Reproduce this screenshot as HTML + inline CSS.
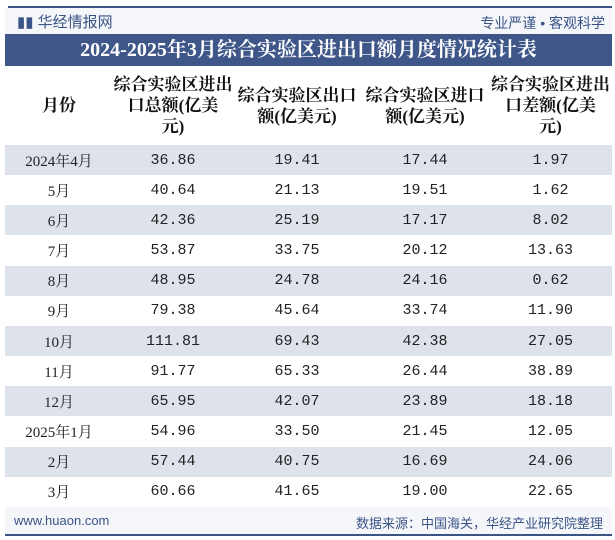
<!DOCTYPE html>
<html><head><meta charset="utf-8"><style>
body{margin:0;width:615px;height:540px;background:#fff;position:relative;overflow:hidden;font-family:"Liberation Sans","Noto Sans CJK SC",sans-serif}
.top{position:absolute;left:8px;right:3px;top:6px;height:2px;background:#3b5486}
.bot{position:absolute;left:5px;right:3px;top:534px;height:2px;background:#3b5486}
.strip{position:absolute;left:5px;right:3px;top:8px;height:26px;background:#f4f6fa}
.logo{position:absolute;left:17px;top:11px;font-size:15px;color:#3b5486}
.slogan{position:absolute;right:10px;top:13px;font-size:14px;color:#3b5486}
.title{position:absolute;left:5px;right:3px;top:34px;height:32px;background:#3f5689;color:#fff;font:bold 20px "Liberation Serif","Noto Serif CJK SC",serif;text-align:center;line-height:32px}
table{position:absolute;left:5px;top:66px;width:607px;border-collapse:collapse;table-layout:fixed}
th{height:79px;font:bold 17px "Liberation Serif","Noto Serif CJK SC",serif;color:#111;line-height:21px;padding:0;white-space:nowrap;overflow:visible}
td{height:30.17px;padding:0;text-align:center;font:15px "Liberation Mono","Noto Sans CJK SC",monospace;color:#222}
tr.g td{background:#dee2eb}
.foot{position:absolute;left:5px;right:3px;top:507px;height:27px;background:#f4f6fa}
.fl{position:absolute;left:14px;top:513px;font-size:13px;color:#3b5486}
.fr{position:absolute;right:12px;top:513px;font-size:13px;color:#3b5486}
</style></head><body>
<div class="strip"></div>
<div class="top"></div>
<div class="logo">▮▮ 华经情报网</div>
<div class="slogan">专业严谨 • 客观科学</div>
<div class="title">2024-2025年3月综合实验区进出口额月度情况统计表</div>
<table>
<colgroup><col style="width:108px"><col style="width:120px"><col style="width:128px"><col style="width:128px"><col style="width:123px"></colgroup>
<tr><th>月份</th><th>综合实验区进出<br>口总额(亿美<br>元)</th><th>综合实验区出口<br>额(亿美元)</th><th>综合实验区进口<br>额(亿美元)</th><th>综合实验区进出<br>口差额(亿美<br>元)</th></tr>
<tbody id="tb"></tbody>
</table>
<div class="foot"></div>
<div class="fl">www.huaon.com</div>
<div class="fr">数据来源：中国海关，华经产业研究院整理</div>
<div class="bot"></div>
<script>
const months=["2024年4月","5月","6月","7月","8月","9月","10月","11月","12月","2025年1月","2月","3月"];
const total=["36.86","40.64","42.36","53.87","48.95","79.38","111.81","91.77","65.95","54.96","57.44","60.66"];
const exp=["19.41","21.13","25.19","33.75","24.78","45.64","69.43","65.33","42.07","33.50","40.75","41.65"];
const imp=["17.44","19.51","17.17","20.12","24.16","33.74","42.38","26.44","23.89","21.45","16.69","19.00"];
const diff=["1.97","1.62","8.02","13.63","0.62","11.90","27.05","38.89","18.18","12.05","24.06","22.65"];
const tb=document.getElementById('tb');
months.forEach((m,i)=>{
const tr=document.createElement('tr');


if(i%2==0)tr.className='g';
[m,total[i],exp[i],imp[i],diff[i]].forEach((v,j)=>{
const td=document.createElement('td');


td.textContent=v;
if(j==0)td.style.fontFamily='"Liberation Serif","Noto Serif CJK SC",serif';
tr.appendChild(td);});
tb.appendChild(tr);});
</script>
</body></html>
